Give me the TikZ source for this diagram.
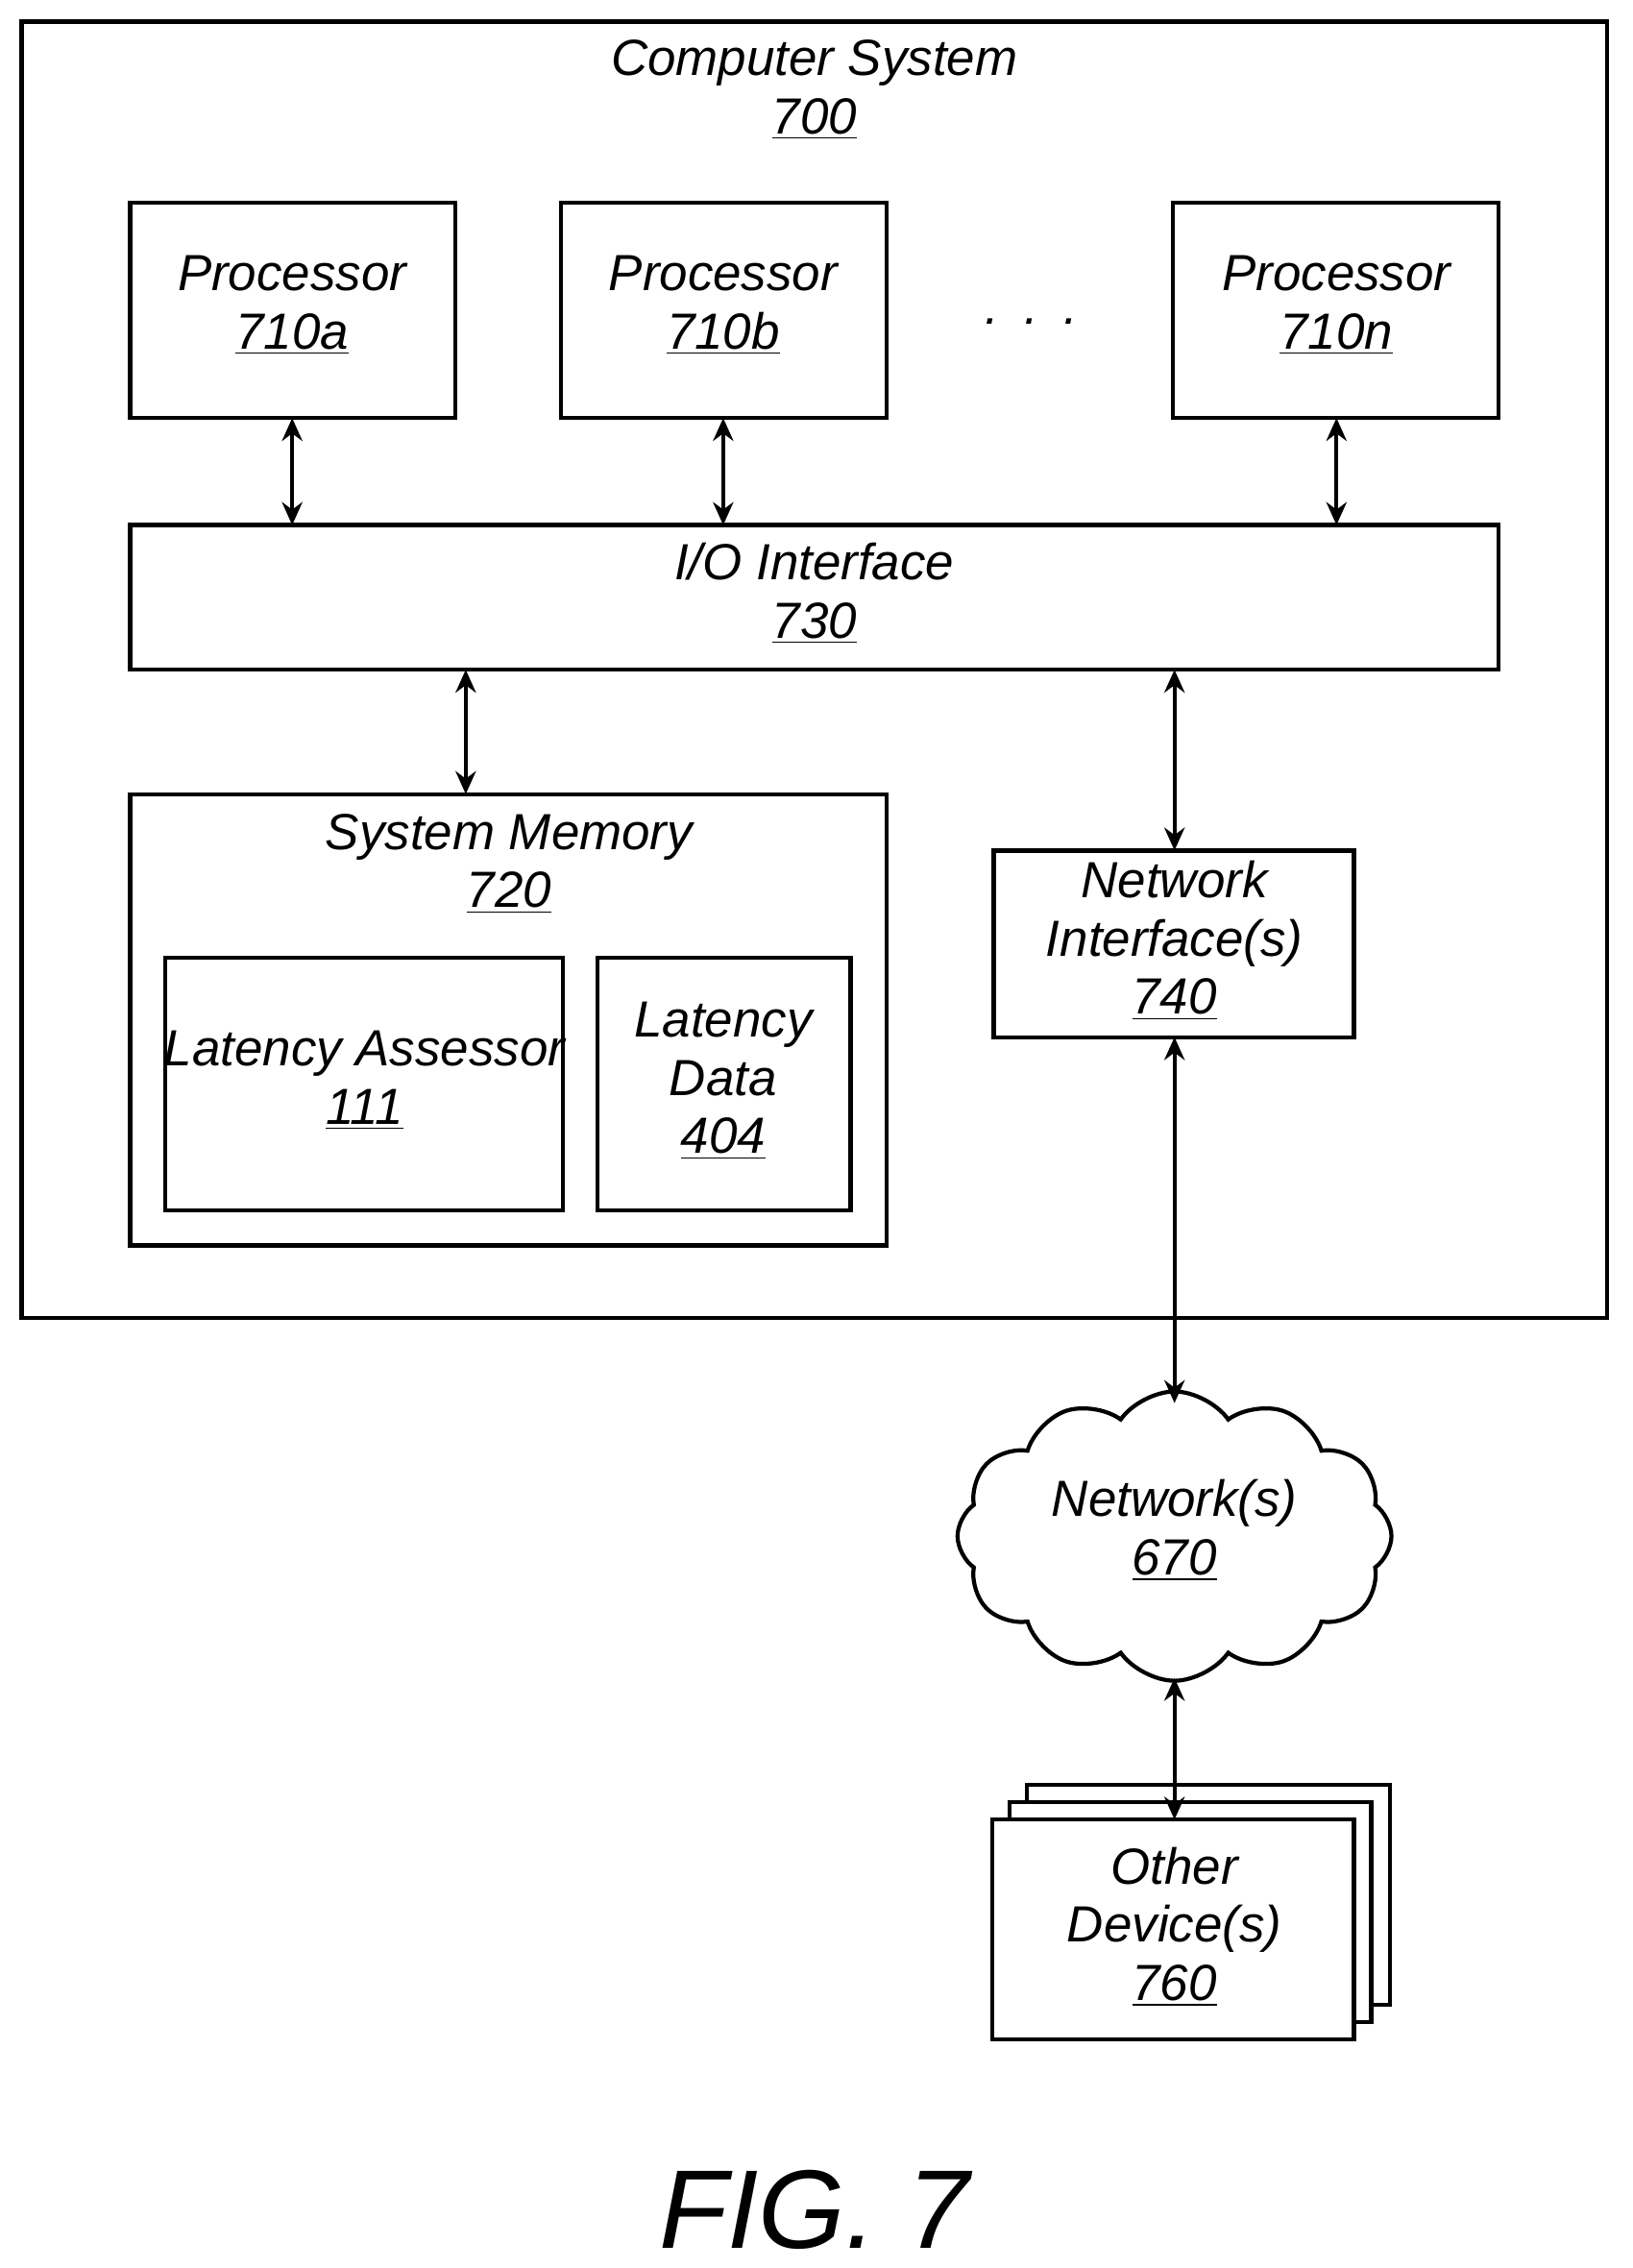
\documentclass[tikz,border=0pt]{standalone}
\usepackage{fontspec}
\setmainfont{Liberation Sans}
\usetikzlibrary{shapes.symbols,arrows.meta}
\begin{document}
\begin{tikzpicture}[x=0.02cm,y=-0.02cm,
  bx/.style={draw,line width=1.6pt,fill=white},
  lb/.style={font=\fontsize{20}{23}\selectfont\itshape,align=center},
  ar/.style={{Stealth[length=9pt,width=8pt]}-{Stealth[length=9pt,width=8pt]},line width=1.6pt}]
\useasboundingbox (0,0) rectangle (1129,1568);
\draw[bx] (15,15) rectangle (1111,911);
\node[lb] (cs) at (563,62) {Computer System\\\underline{700}};
\draw[bx] (90,140) rectangle (315,289); \node[lb] (pa) at (202,211) {Processor\\\underline{710a}};
\draw[bx] (388,140) rectangle (613,289); \node[lb] (pb) at (500,211) {Processor\\\underline{710b}};
\draw[bx] (811,140) rectangle (1036,289); \node[lb] (pn) at (924,211) {Processor\\\underline{710n}};
\node[lb] (dots) at (713,222) {.\,\,\,.\,\,\,.};
\draw[bx] (90,363) rectangle (1036,463); \node[lb] (io) at (563,410) {I/O Interface\\\underline{730}};
\coordinate (pa1) at (202,289); \coordinate (pa2) at (202,363);
\coordinate (pb1) at (500,289); \coordinate (pb2) at (500,363);
\coordinate (pn1) at (924,289); \coordinate (pn2) at (924,363);
\draw[ar] (pa1)--(pa2); \draw[ar] (pb1)--(pb2); \draw[ar] (pn1)--(pn2);
\draw[bx] (90,549) rectangle (613,861); \node[lb] (sm) at (352,597) {System Memory\\\underline{720}};
\draw[bx] (114,662) rectangle (389,837); \node[lb] (la) at (252,747) {Latency Assessor\\\underline{111}};
\draw[bx] (413,662) rectangle (588,837); \node[lb] (ld) at (500,747) {Latency\\Data\\\underline{404}};
\coordinate (m1) at (322,463); \coordinate (m2) at (322,549);
\draw[ar] (m1)--(m2);
\draw[bx] (687,588) rectangle (936,717); \node[lb] (ni) at (812,650) {Network\\Interface(s)\\\underline{740}};
\coordinate (n1) at (812,463); \coordinate (n2) at (812,588);
\draw[ar] (n1)--(n2);
\node[cloud,cloud puffs=12,cloud puff arc=110,aspect=1.5,draw,line width=1.6pt,minimum width=300*0.02cm,minimum height=200*0.02cm] (cl) at (812,1062) {};
\node[lb] (nt) at (812,1058) {Network(s)\\\underline{670}};
\coordinate (c1) at (812,717); \coordinate (c2) at (812,970);
\draw[ar] (c1)--(c2);
\draw[bx] (710,1234) rectangle (961,1386);
\draw[bx] (698,1246) rectangle (948,1398);
\draw[bx] (686,1258) rectangle (936,1410);
\node[lb] (od) at (812,1332) {Other\\Device(s)\\\underline{760}};
\coordinate (d1) at (812,1160); \coordinate (d2) at (812,1258);
\draw[ar] (d1)--(d2);
\node[font=\fontsize{44}{50}\selectfont\itshape] (fig) at (563,1528) {FIG. 7};
\end{tikzpicture}
\end{document}
